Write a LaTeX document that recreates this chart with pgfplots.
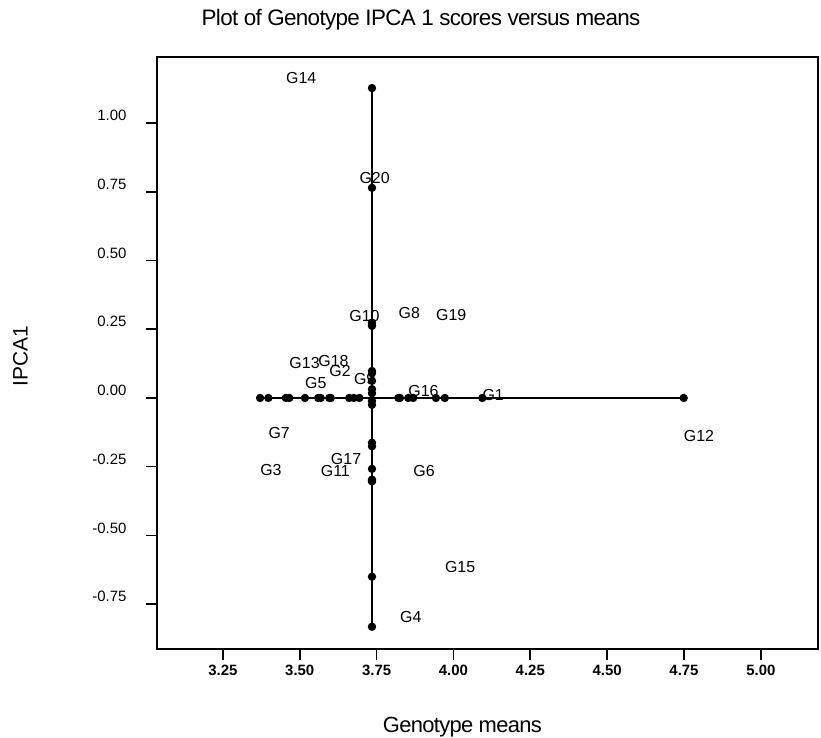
\documentclass[border=0pt]{standalone}
\usepackage{pgfplots}
\pgfplotsset{compat=1.18}
\usepackage{pgfplotstable}
\usepackage{fontspec}
\setmainfont{Liberation Sans}
\newfontfamily\tightfont[LetterSpace=-3]{Liberation Sans}

% genotype means and IPCA 1 scores
\pgfplotstableread{
label mean  ipca
G1    4.094 -0.025
G2    3.596  0.062
G3    3.371 -0.297
G4    3.826 -0.832
G5    3.517  0.017
G6    3.869 -0.302
G7    3.398 -0.163
G8    3.821  0.274
G9    3.676  0.032
G10   3.661  0.262
G11   3.568 -0.303
G12   4.749 -0.176
G13   3.466  0.090
G14   3.455  1.127
G15   3.972 -0.650
G16   3.853 -0.011
G17   3.601 -0.258
G18   3.560  0.098
G19   3.943  0.266
G20   3.694  0.764
}\genotypes

\begin{document}
\begin{tikzpicture}
\useasboundingbox (-157bp,-89bp) rectangle (664bp,649bp);
\begin{axis}[
    at={(0,0)}, anchor=south west,
    scale only axis,
    width=661bp, height=592bp,
    xmin=3.0356, xmax=5.186,
    ymin=-0.913, ymax=1.240,
    xtick={3.25,3.5,3.75,4,4.25,4.5,4.75,5},
    ytick={-0.75,-0.5,-0.25,0,0.25,0.5,0.75,1},
    tick align=outside,
    xtick pos=bottom, ytick pos=left,
    major tick length=11bp,
    every tick/.style={black, line width=1.6bp},
    axis line style={line width=1.8bp},
    /pgf/number format/.cd, fixed, fixed zerofill, precision=2, assume math mode=true,
    /pgfplots/.cd,
    xticklabel style={font=\fontsize{15}{17}\selectfont\bfseries, yshift=-2bp},
    yticklabel style={font=\fontsize{15}{17}\selectfont, anchor=east, xshift=-16bp, yshift=7.5bp},
    title={Plot of Genotype IPCA 1 scores versus means},
    title style={font=\tightfont\fontsize{22.5}{24}\selectfont, at={(0.3994,1.0532)}, anchor=center},
    xlabel={Genotype means},
    xlabel style={font=\tightfont\fontsize{22}{24}\selectfont, at={(0.462,-0.1318)}, anchor=center},
    ylabel={IPCA1},
    ylabel style={font=\fontsize{21}{24}\selectfont, at={(-0.2065,0.4953)}, anchor=center},
]
% genotype names at (mean, IPCA 1)
\addplot[only marks, mark=*, mark size=0pt,
    nodes near coords, point meta=explicit symbolic,
    every node near coord/.append style={anchor=west, inner sep=0pt, yshift=10bp,
        font=\fontsize{16}{18}\selectfont, text=black}]
    table[x=mean, y=ipca, meta=label] {\genotypes};
% means on the zero line
\addplot[black, line width=1.3bp, mark=*, mark size=3.5bp, mark options={fill=black}]
    coordinates {(3.371,0) (3.398,0) (3.455,0) (3.466,0) (3.517,0) (3.560,0) (3.568,0)
    (3.596,0) (3.601,0) (3.661,0) (3.676,0) (3.694,0) (3.821,0) (3.826,0) (3.853,0)
    (3.869,0) (3.943,0) (3.972,0) (4.094,0) (4.749,0)};
% IPCA 1 scores on the grand mean line
\addplot[black, line width=1.3bp, mark=*, mark size=3.5bp, mark options={fill=black}]
    coordinates {(3.735,-0.832) (3.735,-0.650) (3.735,-0.303) (3.735,-0.302) (3.735,-0.297)
    (3.735,-0.258) (3.735,-0.176) (3.735,-0.163) (3.735,-0.025) (3.735,-0.011)
    (3.735,0.017) (3.735,0.032) (3.735,0.062) (3.735,0.090) (3.735,0.098)
    (3.735,0.262) (3.735,0.266) (3.735,0.274) (3.735,0.764) (3.735,1.127)};
\end{axis}
\end{tikzpicture}
\end{document}
